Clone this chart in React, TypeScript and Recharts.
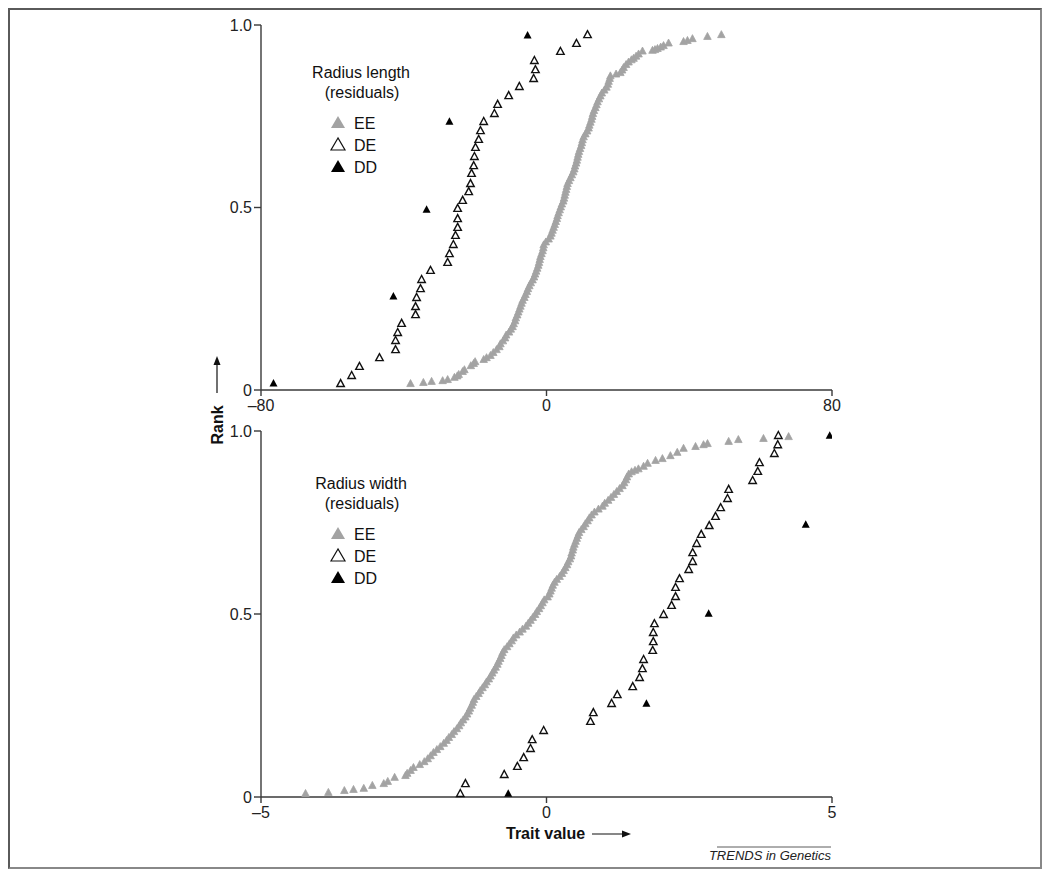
import React from 'react';
import { ScatterChart, Scatter, XAxis, YAxis } from 'recharts';

// [trait value, rank]
const lengthEE: [number, number][] = [
  [-38.1, 0.019], [-34.5, 0.022], [-32.2, 0.025], [-29.1, 0.027], [-27.7, 0.03], [-25.8, 0.036], [-25.0, 0.04],
  [-24.6, 0.044], [-23.5, 0.052], [-23.0, 0.057], [-21.2, 0.068], [-20.4, 0.074], [-20.0, 0.079], [-17.6, 0.085],
  [-16.8, 0.09], [-15.7, 0.096], [-14.9, 0.104], [-14.0, 0.112], [-13.2, 0.12], [-12.9, 0.128], [-12.2, 0.136],
  [-11.6, 0.144], [-11.3, 0.152], [-10.5, 0.16], [-10.0, 0.168], [-9.5, 0.175], [-9.2, 0.183], [-8.8, 0.191],
  [-8.6, 0.199], [-8.2, 0.207], [-7.9, 0.215], [-7.6, 0.223], [-7.3, 0.231], [-7.0, 0.239], [-6.7, 0.247],
  [-6.2, 0.255], [-5.9, 0.263], [-5.5, 0.271], [-5.2, 0.279], [-4.8, 0.287], [-4.4, 0.295], [-3.9, 0.303],
  [-3.5, 0.311], [-3.2, 0.319], [-2.9, 0.327], [-2.6, 0.335], [-2.3, 0.343], [-2.1, 0.351], [-1.9, 0.359],
  [-1.7, 0.367], [-1.4, 0.375], [-1.1, 0.383], [-0.9, 0.391], [-0.8, 0.399], [-0.2, 0.407], [0.6, 0.415],
  [1.1, 0.423], [1.4, 0.431], [1.7, 0.439], [2.0, 0.447], [2.3, 0.455], [2.6, 0.463], [2.9, 0.471], [3.1, 0.479],
  [3.4, 0.487], [3.7, 0.495], [4.0, 0.503], [4.3, 0.511], [4.7, 0.519], [4.9, 0.527], [5.1, 0.535], [5.3, 0.543],
  [5.5, 0.551], [5.7, 0.559], [5.9, 0.567], [6.3, 0.575], [6.7, 0.583], [7.1, 0.591], [7.5, 0.599], [7.8, 0.607],
  [8.0, 0.615], [8.3, 0.623], [8.5, 0.631], [8.7, 0.639], [8.9, 0.647], [9.1, 0.655], [9.4, 0.663], [9.7, 0.671],
  [9.9, 0.679], [10.1, 0.687], [10.4, 0.695], [10.9, 0.703], [11.4, 0.711], [11.8, 0.719], [12.0, 0.727],
  [12.3, 0.735], [12.6, 0.743], [12.8, 0.751], [13.0, 0.759], [13.3, 0.767], [13.7, 0.775], [14.0, 0.783],
  [14.3, 0.791], [14.7, 0.799], [15.1, 0.807], [15.5, 0.815], [16.2, 0.823], [16.8, 0.831], [17.2, 0.839],
  [17.4, 0.847], [17.7, 0.855], [17.9, 0.862], [19.5, 0.867], [20.7, 0.871], [21.2, 0.878], [21.6, 0.885],
  [22.3, 0.893], [23.0, 0.9], [23.8, 0.906], [24.4, 0.91], [25.1, 0.916], [25.8, 0.922], [26.9, 0.93],
  [29.7, 0.932], [30.4, 0.934], [31.1, 0.937], [32.0, 0.941], [32.8, 0.945], [34.2, 0.952], [38.4, 0.956],
  [39.5, 0.959], [40.9, 0.964], [45.1, 0.97], [49.0, 0.975],
];

const lengthDE: [number, number][] = [
  [-57.7, 0.019], [-54.6, 0.041], [-52.4, 0.066], [-46.8, 0.09], [-42.3, 0.112], [-42.3, 0.137], [-41.7, 0.159],
  [-40.6, 0.184], [-36.7, 0.208], [-36.7, 0.23], [-36.4, 0.255], [-35.3, 0.279], [-35.0, 0.304], [-32.5, 0.329],
  [-27.7, 0.351], [-27.2, 0.375], [-26.1, 0.4], [-25.5, 0.425], [-24.9, 0.447], [-24.9, 0.471], [-24.9, 0.499],
  [-23.5, 0.521], [-21.8, 0.545], [-21.3, 0.567], [-21.0, 0.595], [-20.4, 0.616], [-20.2, 0.641], [-19.9, 0.666],
  [-19.0, 0.688], [-18.5, 0.712], [-17.6, 0.737], [-14.6, 0.759], [-13.7, 0.784], [-10.6, 0.808], [-7.6, 0.833],
  [-3.6, 0.855], [-3.1, 0.879], [-3.4, 0.904], [3.9, 0.929], [8.4, 0.951], [11.5, 0.975],
];

const lengthDD: [number, number][] = [
  [-76.5, 0.02], [-42.9, 0.258], [-33.6, 0.496], [-27.2, 0.737], [-5.3, 0.973],
];

const widthEE: [number, number][] = [
  [-4.22, 0.011], [-3.82, 0.014], [-3.54, 0.019], [-3.38, 0.022], [-3.2, 0.025], [-3.05, 0.033], [-2.85, 0.038],
  [-2.78, 0.044], [-2.66, 0.055], [-2.47, 0.06], [-2.44, 0.066], [-2.38, 0.074], [-2.33, 0.082], [-2.22, 0.09],
  [-2.14, 0.098], [-2.08, 0.106], [-2.03, 0.114], [-1.98, 0.123], [-1.92, 0.131], [-1.86, 0.139], [-1.8, 0.148],
  [-1.75, 0.156], [-1.71, 0.164], [-1.66, 0.172], [-1.62, 0.18], [-1.57, 0.188], [-1.53, 0.196], [-1.5, 0.204],
  [-1.46, 0.212], [-1.42, 0.22], [-1.39, 0.228], [-1.36, 0.236], [-1.34, 0.244], [-1.31, 0.252], [-1.29, 0.26],
  [-1.27, 0.268], [-1.23, 0.276], [-1.19, 0.284], [-1.16, 0.292], [-1.12, 0.3], [-1.08, 0.308], [-1.05, 0.316],
  [-1.01, 0.324], [-0.98, 0.332], [-0.95, 0.34], [-0.92, 0.348], [-0.89, 0.356], [-0.86, 0.364], [-0.84, 0.372],
  [-0.81, 0.38], [-0.79, 0.388], [-0.77, 0.396], [-0.74, 0.404], [-0.69, 0.412], [-0.65, 0.42], [-0.61, 0.428],
  [-0.58, 0.436], [-0.53, 0.444], [-0.47, 0.452], [-0.42, 0.46], [-0.36, 0.468], [-0.32, 0.476], [-0.28, 0.484],
  [-0.24, 0.492], [-0.2, 0.5], [-0.17, 0.508], [-0.13, 0.516], [-0.1, 0.524], [-0.07, 0.532], [-0.04, 0.54],
  [0.02, 0.548], [0.05, 0.556], [0.07, 0.564], [0.09, 0.572], [0.11, 0.58], [0.14, 0.588], [0.18, 0.596],
  [0.23, 0.604], [0.27, 0.612], [0.3, 0.62], [0.33, 0.628], [0.36, 0.636], [0.38, 0.644], [0.41, 0.652],
  [0.43, 0.66], [0.44, 0.668], [0.46, 0.676], [0.47, 0.684], [0.49, 0.692], [0.51, 0.7], [0.53, 0.708],
  [0.55, 0.716], [0.57, 0.724], [0.61, 0.732], [0.65, 0.74], [0.68, 0.748], [0.72, 0.756], [0.75, 0.764],
  [0.79, 0.772], [0.84, 0.78], [0.91, 0.788], [0.98, 0.796], [1.02, 0.804], [1.08, 0.812], [1.13, 0.82],
  [1.18, 0.828], [1.23, 0.836], [1.28, 0.844], [1.33, 0.852], [1.36, 0.86], [1.39, 0.868], [1.41, 0.876],
  [1.44, 0.884], [1.49, 0.89], [1.55, 0.894], [1.61, 0.898], [1.7, 0.905], [1.77, 0.913], [1.91, 0.921],
  [2.03, 0.926], [2.17, 0.934], [2.29, 0.943], [2.4, 0.954], [2.61, 0.959], [2.75, 0.964], [2.82, 0.967],
  [3.19, 0.973], [3.36, 0.978], [3.8, 0.981], [4.24, 0.986],
];

const widthDE: [number, number][] = [
  [-1.51, 0.011], [-1.42, 0.038], [-0.74, 0.063], [-0.51, 0.085], [-0.4, 0.109], [-0.28, 0.134], [-0.25, 0.158],
  [-0.05, 0.183], [0.77, 0.208], [0.82, 0.232], [1.14, 0.257], [1.24, 0.281], [1.51, 0.303], [1.63, 0.328],
  [1.68, 0.352], [1.7, 0.377], [1.86, 0.402], [1.87, 0.426], [1.87, 0.451], [1.89, 0.475], [2.05, 0.5],
  [2.19, 0.525], [2.26, 0.549], [2.26, 0.574], [2.33, 0.598], [2.49, 0.623], [2.56, 0.645], [2.56, 0.669],
  [2.63, 0.694], [2.71, 0.719], [2.85, 0.743], [2.96, 0.768], [3.05, 0.792], [3.17, 0.817], [3.19, 0.842],
  [3.61, 0.866], [3.7, 0.891], [3.73, 0.915], [3.99, 0.94], [4.05, 0.964], [4.06, 0.989],
];

const widthDD: [number, number][] = [
  [-0.67, 0.011], [1.75, 0.257], [2.84, 0.503], [4.54, 0.746], [4.96, 0.989],
];

const lengthTicks = [-80, 0, 80];
const widthTicks = [-5, 0, 5];
const rankTicks = [0, 0.5, 1];
const groupLabels = ['EE', 'DE', 'DD'];
const panelTitles = ['Radius length', 'Radius width'];

const FONT = '"Liberation Sans", Arial, Helvetica, sans-serif';
const AXIS = '#3a3a3a';
const GRAY = '#a3a3a3';

const toPoints = (arr: [number, number][]) => arr.map(([x, y]) => ({ x, y }));

const triShape = (fill: string, stroke: string, w: number, h: number, sw: number) => (props: any) => {
  const { cx, cy } = props;
  if (cx == null || cy == null) return <g />;
  return (
    <polygon
      points={`${cx},${cy - h / 2} ${cx - w / 2},${cy + h / 2} ${cx + w / 2},${cy + h / 2}`}
      fill={fill}
      stroke={stroke}
      strokeWidth={sw}
      strokeLinejoin="miter"
    />
  );
};

const eeShape = triShape(GRAY, GRAY, 7.5, 7, 0.8);
const deShape = triShape('#fff', '#111', 7.5, 7, 1.4);
const ddShape = triShape('#000', 'none', 8, 7.5, 0);

const fmtX = (v: number) => (v < 0 ? '\u2013' + Math.abs(v) : String(v));
const fmtY = (v: number) => (v === 1 ? '1.0' : v === 0 ? '0' : String(v));

const tickStyle = { fill: '#222', fontSize: 16, fontFamily: FONT };

function Panel(props: {
  ee: [number, number][];
  de: [number, number][];
  dd: [number, number][];
  domain: [number, number];
  ticks: number[];
  height: number;
  marginTop: number;
  marginBottom: number;
}) {
  return (
    <ScatterChart
      width={1030}
      height={props.height}
      margin={{ top: props.marginTop, right: 208, left: 211, bottom: props.marginBottom }}
    >
      <XAxis
        type="number"
        dataKey="x"
        domain={props.domain}
        ticks={props.ticks}
        allowDataOverflow
        tickFormatter={fmtX}
        height={30}
        tickSize={6}
        tickMargin={4}
        stroke={AXIS}
        strokeWidth={1.4}
        tick={tickStyle}
      />
      <YAxis
        type="number"
        dataKey="y"
        domain={[0, 1]}
        ticks={rankTicks}
        tickFormatter={fmtY}
        width={40}
        tickSize={7}
        tickMargin={2}
        stroke={AXIS}
        strokeWidth={1.4}
        tick={tickStyle}
      />
      <Scatter data={toPoints(props.ee)} shape={eeShape} isAnimationActive={false} />
      <Scatter data={toPoints(props.de)} shape={deShape} isAnimationActive={false} />
      <Scatter data={toPoints(props.dd)} shape={ddShape} isAnimationActive={false} />
    </ScatterChart>
  );
}

function LegendBlock({ title, top }: { title: string; top: number }) {
  const styles = [
    { fill: GRAY, stroke: 'none' },
    { fill: '#fff', stroke: '#111' },
    { fill: '#000', stroke: 'none' },
  ];
  return (
    <g fontFamily={FONT} fontSize={16} fill="#111">
      <text x={351} y={top} textAnchor="middle" dominantBaseline="central">{title}</text>
      <text x={352} y={top + 20} textAnchor="middle" dominantBaseline="central">(residuals)</text>
      {groupLabels.map((g, i) => {
        const cy = top + 50 + i * 22;
        const cx = 328;
        return (
          <g key={g}>
            <polygon
              points={`${cx},${cy - 6} ${cx - 7},${cy + 6} ${cx + 7},${cy + 6}`}
              fill={styles[i].fill}
              stroke={styles[i].stroke}
              strokeWidth={1.2}
            />
            <text x={344} y={cy + 1} dominantBaseline="central">{g}</text>
          </g>
        );
      })}
    </g>
  );
}

export default function App() {
  return (
    <div
      style={{
        position: 'relative',
        width: 1030,
        height: 857,
        border: '2px solid #5a5a5a',
        borderRightColor: '#888',
        borderBottomColor: '#888',
        background: '#fff',
        fontFamily: FONT,
      }}
    >
      <div style={{ position: 'absolute', left: 0, top: 0 }}>
        <Panel ee={lengthEE} de={lengthDE} dd={lengthDD} domain={[-80, 80]} ticks={lengthTicks} height={420} marginTop={15} marginBottom={10} />
      </div>
      <div style={{ position: 'absolute', left: 0, top: 410 }}>
        <Panel ee={widthEE} de={widthDE} dd={widthDD} domain={[-5, 5]} ticks={widthTicks} height={430} marginTop={11} marginBottom={23} />
      </div>
      <svg
        width={1030}
        height={857}
        style={{ position: 'absolute', left: 0, top: 0, pointerEvents: 'none' }}
      >
        <LegendBlock title={panelTitles[0]} top={62} />
        <LegendBlock title={panelTitles[1]} top={473} />
        {/* Rank label */}
        <text
          x={207}
          y={415}
          transform="rotate(-90 207 415)"
          textAnchor="middle"
          dominantBaseline="central"
          fontFamily={FONT}
          fontSize={16}
          fontWeight="bold"
          fill="#111"
        >
          Rank
        </text>
        <line x1={207} y1={383} x2={207} y2={352} stroke="#111" strokeWidth={1.2} />
        <polygon points="207,346 203.5,355 210.5,355" fill="#111" />
        {/* Trait value label */}
        <text x={496} y={823} dominantBaseline="central" fontFamily={FONT} fontSize={16} fontWeight="bold" fill="#111">
          Trait value
        </text>
        <line x1={582} y1={824} x2={615} y2={824} stroke="#111" strokeWidth={1.2} />
        <polygon points="621,824 612,820.5 612,827.5" fill="#111" />
        {/* Source */}
        <line x1={707} y1={837} x2={821} y2={837} stroke="#333" strokeWidth={0.8} />
        <text x={821} y={850} textAnchor="end" fontFamily={FONT} fontSize={13} fontStyle="italic" fill="#222">
          TRENDS in Genetics
        </text>
      </svg>
    </div>
  );
}
